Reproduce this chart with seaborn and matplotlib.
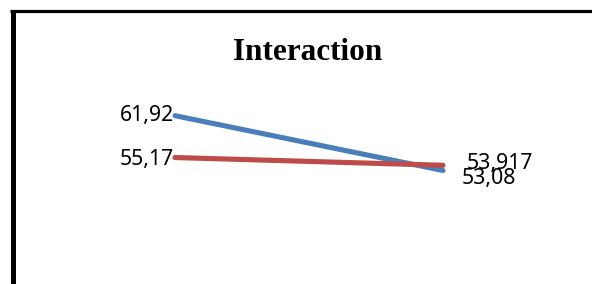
import matplotlib
matplotlib.use("Agg")
import matplotlib.pyplot as plt
from matplotlib.lines import Line2D
import seaborn as sns
import pandas as pd

# data
categories = ["A", "B"]
series_names = ["Series1", "Series2"]
blue_values = [61.92, 53.08]
red_values = [55.17, 53.917]
blue_labels = ["61,92", "53,08"]
red_labels = ["55,17", "53,917"]

df = pd.DataFrame({
    "cat": categories * 2,
    "value": blue_values + red_values,
    "series": [series_names[0]] * 2 + [series_names[1]] * 2,
})

sns.set_style("white")
plt.rcParams["font.family"] = ["Noto Sans", "DejaVu Sans"]
plt.rcParams["text.color"] = "black"

fig = plt.figure(figsize=(5.92, 2.84), dpi=100)
ax = fig.add_axes([0, 0, 1, 1])
sns.lineplot(data=df, x="cat", y="value", hue="series",
             palette=["#4A7EBB", "#BE4B48"], linewidth=3.7,
             solid_capstyle="round", legend=False, ax=ax)
ax.set_xlim(-0.653, 1.556)
ax.set_ylim(34.77, 80.58)
ax.axis("off")

# data labels (the two on the right overlap in the original too)
fs = 15.3
ax.annotate(blue_labels[0], (0, blue_values[0]), xytext=(-0.5, 0), textcoords="offset points",
            ha="right", va="center", fontsize=fs)
ax.annotate(red_labels[0], (0, red_values[0]), xytext=(-0.5, -1.5), textcoords="offset points",
            ha="right", va="center", fontsize=fs)
ax.annotate(red_labels[1], (1, red_values[1]), xytext=(17, 1.5), textcoords="offset points",
            ha="left", va="center", fontsize=fs)
ax.annotate(blue_labels[1], (1, blue_values[1]), xytext=(13.5, -5.5), textcoords="offset points",
            ha="left", va="center", fontsize=fs)

fig.text(308 / 592, 1 - 60.5 / 284, "Interaction", ha="center", va="baseline",
         fontsize=22.5, fontweight="bold", family=["Liberation Serif", "DejaVu Serif"])

# chart frame (cropped on the right and bottom)
fig.add_artist(Line2D([10 / 592, 1], [1 - 10.8 / 284] * 2, color="black", linewidth=2.3,
                      solid_capstyle="butt", transform=fig.transFigure))
fig.add_artist(Line2D([12.5 / 592] * 2, [0, 1 - 9.5 / 284], color="black", linewidth=3.6,
                      solid_capstyle="butt", transform=fig.transFigure))

fig.savefig("out.png", dpi=100)
